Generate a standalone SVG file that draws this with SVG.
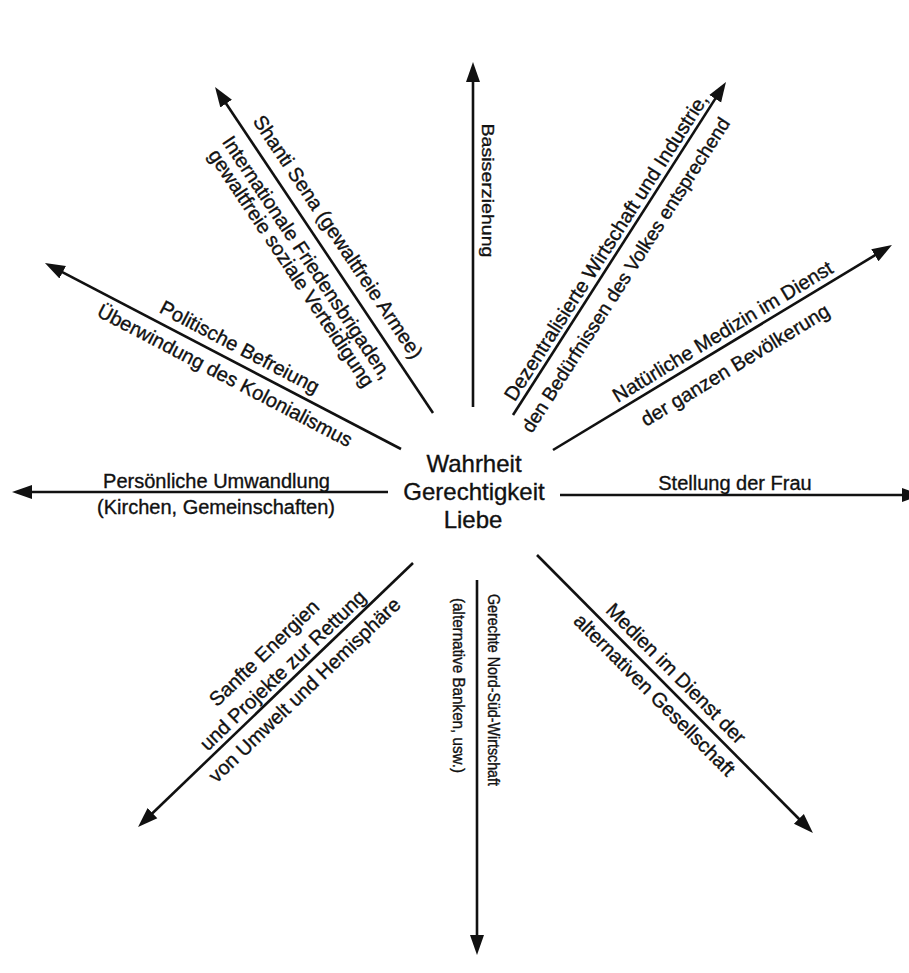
<svg xmlns="http://www.w3.org/2000/svg" width="909" height="973" viewBox="0 0 909 973">
<style>
.t{font-family:"Liberation Sans",Arial,sans-serif;fill:#111;text-anchor:middle;stroke:#111;stroke-width:0.35}
.lb{font-size:20px}
.sm{font-size:16px}
.ctr{font-size:24px}
.ln{stroke:#111;stroke-width:2.6;fill:none;marker-end:url(#ah)}
</style>
<defs>
<marker id="ah" markerUnits="userSpaceOnUse" markerWidth="24" markerHeight="18" viewBox="0 -9 24 18" refX="8" refY="0" orient="auto">
<path d="M0,-7 L20,0 L0,7 z" fill="#111"/>
</marker>
</defs>
<rect width="909" height="973" fill="#fff"/>
<g id="connectors">
<line class="ln" x1="473" y1="407" x2="473" y2="74"/>
<line class="ln" x1="433" y1="413" x2="221.7" y2="97"/>
<line class="ln" x1="401" y1="449" x2="55.6" y2="268.6"/>
<line class="ln" x1="388" y1="492" x2="24" y2="492"/>
<line class="ln" x1="513" y1="415" x2="719.5" y2="92.1"/>
<line class="ln" x1="553" y1="450" x2="881.7" y2="251.2"/>
<line class="ln" x1="560" y1="495" x2="910" y2="495"/>
<line class="ln" x1="537" y1="555" x2="804.5" y2="824.5"/>
<line class="ln" x1="477" y1="580" x2="477" y2="943"/>
<line class="ln" x1="413" y1="563" x2="146.7" y2="818.7"/>
</g>
<g id="center">
<text class="t ctr" x="474" y="472">Wahrheit</text>
<text class="t ctr" x="474" y="500">Gerechtigkeit</text>
<text class="t ctr" x="473" y="528">Liebe</text>
</g>
<g id="basiserziehung" transform="translate(473,190.5) rotate(90)">
<text class="t" style="font-size:16px" x="0" y="-8.5" textLength="134" lengthAdjust="spacingAndGlyphs">Basiserziehung</text>
</g>
<g id="shanti" transform="translate(322.3,247.4) rotate(56.2)">
<text class="t lb" x="0" y="-12">Shanti Sena (gewaltfreie Armee)</text>
<text class="t lb" x="0" y="25">Internationale Friedensbrigaden,</text>
<text class="t lb" x="0" y="44">gewaltfreie soziale Verteidigung</text>
</g>
<g id="politische" transform="translate(232.4,361.1) rotate(27.65)">
<text class="t lb" x="0" y="-9">Politische Befreiung</text>
<text class="t lb" x="0" y="23">Überwindung des Kolonialismus</text>
</g>
<g id="persoenliche">
<text class="t lb" x="216.5" y="488">Persönliche Umwandlung</text>
<text class="t lb" x="216" y="514">(Kirchen, Gemeinschaften)</text>
</g>
<g id="dezentral" transform="translate(612.7,259.2) rotate(-57.4)">
<text class="t lb" x="6.6" y="-5.3">Dezentralisierte Wirtschaft und Industrie,</text>
<text class="t" style="font-size:19.2px" x="-6.2" y="26">den Bedürfnissen des Volkes entsprechend</text>
</g>
<g id="medizin" transform="translate(726.8,345) rotate(-31.2)">
<text class="t lb" x="3.4" y="-6.8">Natürliche Medizin im Dienst</text>
<text class="t lb" x="-3.3" y="28.3">der ganzen Bevölkerung</text>
</g>
<g id="frau">
<text class="t lb" x="735" y="490">Stellung der Frau</text>
</g>
<g id="medien" transform="translate(665.2,684.2) rotate(45.2)">
<text class="t lb" x="0" y="-8.5">Medien im Dienst der</text>
<text class="t lb" x="0" y="21.9">alternativen Gesellschaft</text>
</g>
<g id="nordsued" transform="translate(477,690) rotate(90)">
<text class="t sm" x="0" y="-11" textLength="192" lengthAdjust="spacingAndGlyphs">Gerechte Nord-Süd-Wirtschaft</text>
<text class="t sm" x="-4.5" y="24" textLength="175" lengthAdjust="spacingAndGlyphs">(alternative Banken, usw.)</text>
</g>
<g id="sanfte" transform="translate(291.7,679.5) rotate(-43.8)">
<text class="t lb" x="-1.6" y="-31.4">Sanfte Energien</text>
<text class="t lb" x="0" y="-6">und Projekte zur Rettung</text>
<text class="t lb" x="2" y="23.3">von Umwelt und Hemisphäre</text>
</g>
</svg>
